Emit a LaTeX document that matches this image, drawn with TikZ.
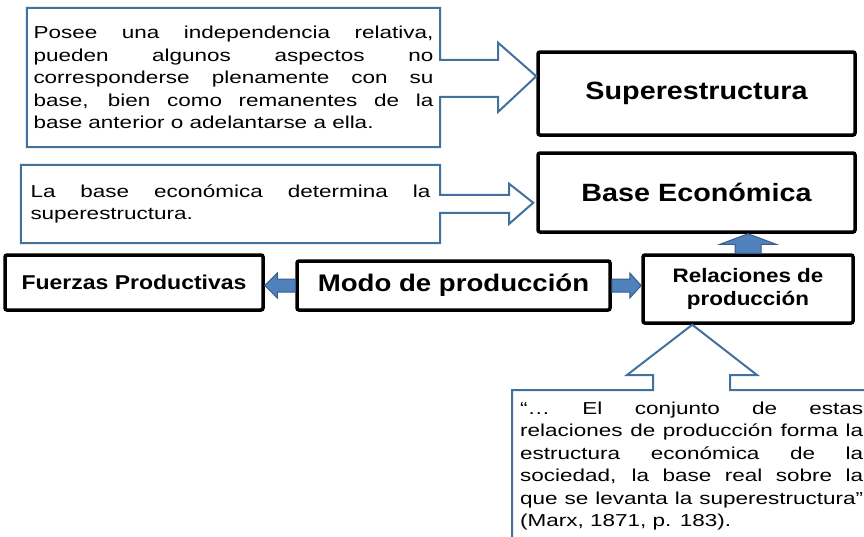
\documentclass[tikz,border=0pt]{standalone}
\usepackage{fontspec}
\setmainfont{Liberation Sans}
\newfontfamily\notafont{Liberation Sans}[FakeStretch=1.3]
\newfontfamily\cajafont{Liberation Sans}[FakeStretch=1.15]
\usetikzlibrary{calc}
\definecolor{azulborde}{HTML}{41719C}
\definecolor{azulflecha}{HTML}{4F81BD}
\definecolor{azuloscuro}{HTML}{385D8A}
\tolerance=10000
\hyphenpenalty=10000

\begin{document}
\begin{tikzpicture}[x=1pt,y=-1pt,
    caja/.style={draw,line width=3.5pt,rounded corners=2pt,inner sep=0pt,font=\cajafont\bfseries},
    nota/.style={inner sep=0pt,text width=400pt,align=justify,font=\notafont\fontsize{17.3}{22.5}\selectfont},
    borde/.style={draw=azulborde,line width=2pt,line join=miter},
    flecha/.style={fill=azulflecha,draw=azuloscuro,line width=1pt}]
    \clip (0,0) rectangle (864,536);
    % cajas
    \node[caja,minimum width=317pt,minimum height=83pt,font=\cajafont\bfseries\fontsize{25}{30}\selectfont] (sup) at (696.5,93.5) {Superestructura};
    \node[caja,minimum width=317pt,minimum height=79pt,font=\cajafont\bfseries\fontsize{25}{30}\selectfont] (base) at (696.5,192.5) {Base Económica};
    \node[caja,minimum width=258pt,minimum height=55pt,font=\cajafont\bfseries\fontsize{20}{24}\selectfont] (fuerzas) at (134,282.5) {Fuerzas Productivas};
    \node[caja,minimum width=313pt,minimum height=49pt,font=\cajafont\bfseries\fontsize{24}{28}\selectfont] (modo) at (453.5,285.5) {Modo de producción};
    \node[caja,minimum width=210pt,minimum height=68pt,align=center,font=\cajafont\bfseries\fontsize{19.5}{23}\selectfont] (rel) at (748,289) {Relaciones de\\producción};
    % notas
    \node[nota,minimum width=413pt,minimum height=139pt] (posee) at (233.5,77.5) {Posee una independencia relativa,\linebreak pueden algunos aspectos no\linebreak corresponderse plenamente con su\linebreak base, bien como remanentes de la\linebreak base anterior o adelantarse a ella.};
    \node[nota,minimum width=419pt,minimum height=78pt] (determina) at (230.5,204) {La base económica determina la\linebreak superestructura.};
    \node[nota,text width=343pt,anchor=north west] (cita) at (520,401.5) {“… El conjunto de estas\linebreak relaciones de producción forma la\linebreak estructura económica de la\linebreak sociedad, la base real sobre la\linebreak que se levanta la superestructura”\linebreak (Marx, 1871, p. 183).};
    % flechas
    \draw[flecha] ($(modo.west)+(0,-6.5)$) -- ++(-18,0) -- ++(0,-6) -- (fuerzas.east |- modo.west) -- ($(modo.west)+(-18,12.5)$) -- ++(0,-6) -- ++(18,0) -- cycle;
    \draw[flecha] ($(modo.east)+(0,-6.5)$) -- ++(18,0) -- ++(0,-6) -- (rel.west |- modo.east) -- ($(modo.east)+(18,12.5)$) -- ++(0,-6) -- ++(-18,0) -- cycle;
    \draw[flecha] ($(rel.north)+(-13,0)$) -- ++(0,-9) -- ++(-15,0) -- (base.south -| rel.north) -- ($(rel.north)+(28,-9)$) -- ++(-15,0) -- ++(0,9) -- cycle;
    % llamadas
    \draw[borde] (posee.south west) -- (posee.north west) -- (posee.north east) -- ($(posee.north east)+(0,52)$) -- ++(58,0) -- ++(0,-17) -- ($(sup.north west)+(0,26)$) -- ($(posee.north east)+(58,104)$) -- ++(0,-15) -- ++(-58,0) -- (posee.south east) -- cycle;
    \draw[borde] (determina.south west) -- (determina.north west) -- (determina.north east) -- ($(determina.north east)+(0,30)$) -- ++(69,0) -- ++(0,-11) -- ($(base.south west)+(-3,-31)$) -- ($(determina.north east)+(69,59)$) -- ++(0,-11) -- ++(-69,0) -- (determina.south east) -- cycle;
    \draw[borde] (512,545) -- (512,390) -- (653,390) -- (653,375) -- (627,375) -- ($(rel.south west)+(51,0)$) -- (757,375) -- (730,375) -- (730,390) -- (870,390);
\end{tikzpicture}
\end{document}
